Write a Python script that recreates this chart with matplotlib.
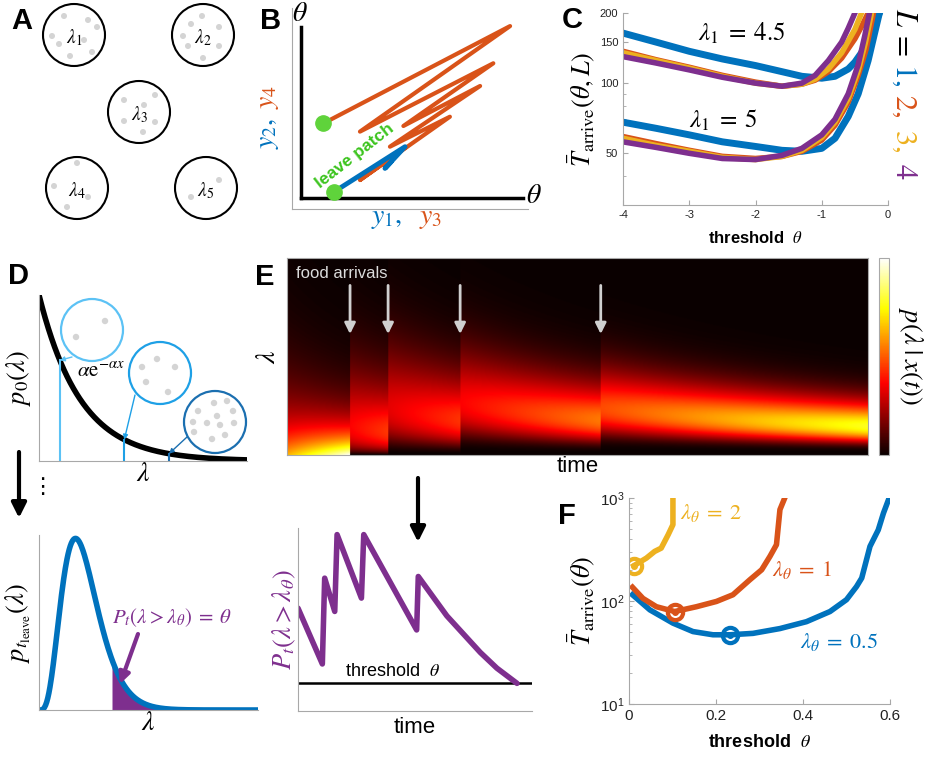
import numpy as np
import matplotlib
matplotlib.use('Agg')
import matplotlib.pyplot as plt
import matplotlib.ticker as tick
from matplotlib.patches import Circle
from math import lgamma

plt.rcParams['font.family'] = ['Liberation Sans', 'DejaVu Sans']
plt.rcParams['mathtext.fontset'] = 'stix'
plt.rcParams['axes.unicode_minus'] = False

BLUE, ORANGE, YELLOW, PURPLE = '#0072BD', '#D95319', '#EDB120', '#7E2F8E'
GREEN = '#5FD33B'
DOT = '#d4d4d4'
SPINE = '#a8a8a8'

# ---------------- data ----------------
# A: patches and food items (pixel layout of the cartoon)
patch_centers = [(74, 35), (203, 35), (139, 112), (77, 188), (206, 188)]
patch_labels = [r'$\lambda_1$', r'$\lambda_2$', r'$\lambda_3$', r'$\lambda_4$', r'$\lambda_5$']
patch_food = [
    [(64, 16), (88, 20), (97, 27), (52, 36), (84, 40), (59, 44), (92, 52), (70, 56)],
    [(202, 16), (191, 24), (219, 27), (183, 36), (188, 46), (219, 46), (203, 58)],
    [(124, 100), (155, 95), (144, 105), (124, 121), (155, 122), (143, 132)],
    [(77, 163), (54, 186), (88, 197), (67, 207)],
    [(219, 180), (191, 197)],
]

# B: belief trajectories
traj_orange_x = [0.133, 0.924, 0.288, 0.853, 0.472, 0.797, 0.415, 0.669, 0.288, 0.48]
traj_orange_y = [0.426, 0.910, 0.385, 0.725, 0.413, 0.612, 0.310, 0.459, 0.144, 0.305]
traj_blue_x = [0.179, 0.479, 0.394, 0.42]
traj_blue_y = [0.086, 0.310, 0.202, 0.235]
leave_x = [0.133, 0.179]
leave_y = [0.426, 0.086]

# C: mean arrival time vs threshold, lambda_1 = 4.5 (upper) and 5 (lower)
c_up_x = {
    1: [-4, -3.5, -3, -2.5, -2, -1.6, -1.3, -1, -0.8, -0.6, -0.5, -0.4, -0.3, -0.2, -0.13],
    2: [-4, -3.5, -3, -2.5, -2, -1.6, -1.3, -1.1, -0.9, -0.7, -0.5, -0.4, -0.3],
    3: [-4, -3.5, -3, -2.5, -2, -1.6, -1.3, -1.1, -0.9, -0.7, -0.5, -0.4],
    4: [-4, -3.5, -3, -2.5, -2, -1.6, -1.3, -1.1, -0.9, -0.7, -0.6, -0.5],
}
c_up_y = {
    1: [164, 150, 137, 127, 119, 112, 107, 105, 107, 115, 123, 135, 153, 180, 200],
    2: [137, 126, 117, 108, 101, 97, 99, 103, 112, 128, 155, 175, 200],
    3: [135, 125, 116, 107, 100, 97, 99, 104, 115, 135, 170, 200],
    4: [130, 122, 114, 106, 100, 97, 100, 108, 125, 150, 172, 200],
}
c_lo_x = {
    1: [-4, -3.5, -3, -2.5, -2, -1.6, -1.3, -1, -0.8, -0.6, -0.45, -0.3, -0.2, -0.13],
    2: [-4, -3.5, -3, -2.5, -2, -1.6, -1.3, -1, -0.8, -0.6, -0.45, -0.33, -0.22],
    3: [-4, -3.5, -3, -2.5, -2, -1.6, -1.3, -1, -0.8, -0.6, -0.45, -0.34, -0.25],
    4: [-4, -3.5, -3, -2.5, -2, -1.6, -1.3, -1, -0.8, -0.6, -0.45, -0.35, -0.28],
}
c_lo_y = {
    1: [68, 64, 60, 56, 53.5, 51.5, 51, 52.5, 58, 72, 90, 125, 165, 200],
    2: [59, 55, 51.5, 48.5, 47.5, 48.5, 51, 57, 66, 83, 108, 140, 200],
    3: [58, 54, 51, 48, 47, 48.5, 51.5, 58.5, 68, 86, 113, 150, 200],
    4: [56, 53, 50, 47.5, 47, 49, 52.5, 60, 70, 90, 120, 160, 200],
}
c_colors = {1: BLUE, 2: ORANGE, 3: YELLOW, 4: PURPLE}
c_xticks = [-4, -3, -2, -1, 0]
c_yticks = [50, 100, 150, 200]

# D: prior alpha*exp(-alpha*x) and the belief at leaving
alpha_prior = 5.0
sample_rates = [0.10, 0.41, 0.625]
sample_colors = ['#5cc2f5', '#1ea0e6', '#1b6fb0']
inset_centers = [(92, 330), (160, 373), (215, 422)]
inset_food = [
    [(76, 337), (105, 321)],
    [(142, 367), (157, 359), (175, 367), (146, 382), (168, 392)],
    [(198, 411), (214, 403), (227, 401), (217, 416), (233, 411), (193, 422),
     (207, 423), (220, 425), (234, 423), (194, 432), (212, 439), (225, 435)],
]
inset_from = [(72, 357), (135, 395), (187, 437)]
leave_shape, leave_rate = 4, 24.0
lambda_theta = 0.333

# E: posterior over lambda with food arrivals
T_END, LAM_MAX, ALPHA_POST = 20.0, 1.15, 3.8
arrivals = [2.17, 3.48, 5.96, 10.8]

# E lower: P_t(lambda > lambda_theta) over time
pt_time = [0, 1.04, 1.14, 1.57, 1.67, 2.71, 2.81, 5.07, 5.14, 6.36, 7.79, 8.5, 9.36]
pt_val = [0.562, 0.257, 0.726, 0.544, 0.964, 0.617, 0.964, 0.443, 0.735, 0.52, 0.32, 0.234, 0.151]
threshold = 0.151

# F: mean arrival time vs threshold
f_theta = {
    0.5: [0.008, 0.048, 0.101, 0.147, 0.193, 0.232, 0.285, 0.347, 0.408, 0.462, 0.500,
          0.523, 0.535, 0.554, 0.573, 0.585, 0.598],
    1: [0.008, 0.032, 0.063, 0.105, 0.155, 0.201, 0.239, 0.278, 0.305, 0.324, 0.339, 0.347, 0.358],
    2: [0.011, 0.040, 0.059, 0.074, 0.090, 0.101, 0.101],
}
f_T = {
    0.5: [115, 82, 61, 50.5, 47, 47, 48.5, 54, 63, 79, 103, 138, 167, 339, 490, 714, 1000],
    1: [136, 106, 88, 79, 88, 99, 115, 161, 201, 271, 352, 771, 1000],
    2: [220, 261, 303, 326, 440, 551, 1000],
}
f_opt = {0.5: (0.232, 47), 1: (0.105, 79), 2: (0.011, 220)}
f_colors = {0.5: BLUE, 1: ORANGE, 2: YELLOW}
f_xticks = [0, 0.2, 0.4, 0.6]
f_xticklabels = ['0', '0.2', '0.4', '0.6']

# ---------------- figure ----------------
W, H = 926, 760
fig = plt.figure(figsize=(W / 100, H / 100), dpi=100)


def box(l, t, r, b):
    return [l / W, 1 - b / H, (r - l) / W, (b - t) / H]


def clean(ax, ticks=True):
    for s in ['top', 'right']:
        ax.spines[s].set_visible(False)
    for s in ['left', 'bottom']:
        ax.spines[s].set_color(SPINE)
    if ticks:
        ax.tick_params(which='both', direction='in', color=SPINE, labelcolor='#222222')
    else:
        ax.set_xticks([])
        ax.set_yticks([])


# B
axB = fig.add_axes(box(292, 8, 528, 209))
axB.set_xlim(0, 1)
axB.set_ylim(0, 1)
clean(axB, ticks=False)
axB.axvline(0.038, 0.055, 0.905, color='k', lw=2.5)
axB.axhline(0.055, 0.038, 0.98, color='k', lw=2.5)
axB.plot(traj_orange_x, traj_orange_y, color=ORANGE, lw=3, solid_capstyle='round')
axB.plot(traj_blue_x, traj_blue_y, color=BLUE, lw=3.5, solid_capstyle='round')
axB.plot(leave_x, leave_y, 'o', color=GREEN, ms=11, ls='none')
axB.text(0.265, 0.265, 'leave patch', color='#3cc41e', fontsize=12.5, fontweight='bold',
         rotation=38, ha='center', va='center')

# C
axC = fig.add_axes(box(623, 13, 888, 205))
for L in [1, 2, 3, 4]:
    lw = 5 if L == 1 else 4
    axC.plot(c_up_x[L], c_up_y[L], color=c_colors[L], lw=lw)
for L in [1, 2, 3, 4]:
    lw = 5 if L == 1 else 4
    axC.plot(c_lo_x[L], c_lo_y[L], color=c_colors[L], lw=lw)
axC.set_yscale('log')
axC.set_ylim(30, 200)
axC.set_xlim(-4, 0)
axC.set_xticks(c_xticks)
axC.set_yticks(c_yticks)
axC.yaxis.set_major_formatter(tick.ScalarFormatter())
axC.yaxis.set_minor_formatter(tick.NullFormatter())
clean(axC)
axC.tick_params(labelsize=8)
axC.set_xlabel(r'threshold  $\theta$', fontsize=12, fontweight='bold', labelpad=7)
axC.set_ylabel(r'$\bar{T}_{\rm arrive}(\theta, L)$', fontsize=19, labelpad=2)
axC.text(-2.2, 164, r'$\lambda_1\;=\;4.5$', fontsize=18, ha='center', va='center')
axC.text(-2.48, 69, r'$\lambda_1\;=\;5$', fontsize=18, ha='center', va='center')

# D upper
axD = fig.add_axes(box(39, 295, 247, 461))
lam = np.linspace(0, 1, 400)
axD.plot(lam, np.exp(-alpha_prior * lam), color='k', lw=4)
for r, c in zip(sample_rates, sample_colors):
    axD.plot([r, r], [0, np.exp(-alpha_prior * r)], color=c, lw=1.5)
axD.set_xlim(0, 1)
axD.set_ylim(0, 1)
clean(axD, ticks=False)
axD.set_xlabel(r'$\lambda$', fontsize=20, labelpad=0)
axD.set_ylabel(r'$p_0(\lambda)$', fontsize=19, labelpad=4)

# D lower
axL = fig.add_axes(box(39, 535, 258, 710))
g = lam ** leave_shape * np.exp(-leave_rate * lam)
g = g / g.max()
axL.fill_between(lam, 0, g, where=lam >= lambda_theta, color=PURPLE, lw=0)
axL.plot(lam, g, color=BLUE, lw=4)
axL.set_xlim(0, 1)
axL.set_ylim(0, 1.02)
clean(axL, ticks=False)
axL.set_xlabel(r'$\lambda$', fontsize=20, labelpad=0)
axL.set_ylabel(r'$p_{t_{\rm leave}}(\lambda)$', fontsize=19, labelpad=4)

# E heatmap
axE = fig.add_axes(box(287, 258, 868, 455))
t_grid = np.linspace(0, T_END, 700)
lam_grid = np.linspace(0, LAM_MAX, 300)
n = np.searchsorted(arrivals, t_grid, side='right')
rate = ALPHA_POST + t_grid
lg = np.array([lgamma(k + 1) for k in n])
logl = np.log(np.clip(lam_grid, 1e-12, None))[:, None]
Z = np.exp((n + 1) * np.log(rate) + n * logl - rate * lam_grid[:, None] - lg)
im = axE.imshow(Z, origin='lower', extent=[0, T_END, 0, LAM_MAX], aspect='auto',
                cmap='hot', vmin=0, vmax=6.0, interpolation='bilinear')
axE.set_xticks([])
axE.set_yticks([])
for s in axE.spines.values():
    s.set_color(SPINE)
for a in arrivals:
    axE.annotate('', xy=(a, LAM_MAX * 0.6), xytext=(a, LAM_MAX * 0.875),
                 arrowprops=dict(arrowstyle='-|>', color='#d0d0d0', lw=2, mutation_scale=16))
axE.text(0.015, 0.92, 'food arrivals', transform=axE.transAxes, color='#dcdcdc',
         fontsize=12, va='center')
axE.set_xlabel('time', fontsize=16, labelpad=1)
axE.set_ylabel(r'$\lambda$', fontsize=20, labelpad=4)
cax = fig.add_axes(box(879, 258, 889, 455))
cb = fig.colorbar(im, cax=cax, ticks=[])
cb.outline.set_edgecolor(SPINE)

# E lower
axP = fig.add_axes(box(298, 528, 532, 711))
axP.axhline(threshold, color='k', lw=1.8)
axP.plot(pt_time, pt_val, color=PURPLE, lw=4, solid_joinstyle='round', solid_capstyle='round')
axP.set_xlim(0, 10)
axP.set_ylim(0, 1)
clean(axP, ticks=False)
axP.text(2.0, threshold + 0.02, r'threshold  $\theta$', fontsize=13, va='bottom')
axP.set_xlabel('time', fontsize=16, labelpad=4)
axP.set_ylabel(r'$P_t(\lambda > \lambda_\theta)$', fontsize=19, color=PURPLE, labelpad=0)

# F
axF = fig.add_axes(box(629, 498, 890, 704))
for k in [0.5, 1, 2]:
    axF.plot(f_theta[k], f_T[k], color=f_colors[k], lw=4)
    axF.plot(*f_opt[k], 'o', color=f_colors[k], ms=11, mfc='none', mew=3)
    axF.plot(*f_opt[k], 'o', color=f_colors[k], ms=4)
axF.set_yscale('log')
axF.set_ylim(10, 1000)
axF.set_xlim(0, 0.6)
axF.set_xticks(f_xticks, f_xticklabels)
clean(axF)
axF.tick_params(labelsize=11)
axF.set_xlabel(r'threshold  $\theta$', fontsize=13, fontweight='bold', labelpad=8)
axF.set_ylabel(r'$\bar{T}_{\rm arrive}(\theta)$', fontsize=19, labelpad=2)
axF.text(0.117, 714, r'$\lambda_\theta\;=\;2$', color=YELLOW, fontsize=16, va='center')
axF.text(0.329, 200, r'$\lambda_\theta\;=\;1$', color=ORANGE, fontsize=16, va='center')
axF.text(0.393, 40, r'$\lambda_\theta\;=\;0.5$', color=BLUE, fontsize=16, va='center')

# overlay for cartoons, arrows and panel letters
ov = fig.add_axes([0, 0, 1, 1])
ov.set_xlim(0, W)
ov.set_ylim(H, 0)
ov.axis('off')

for (cx, cy), lab, food in zip(patch_centers, patch_labels, patch_food):
    ov.add_patch(Circle((cx, cy), 31, fc='white', ec='k', lw=1.5))
    for fx, fy in food:
        ov.add_patch(Circle((fx, fy), 3, fc=DOT, ec='none'))
    ov.text(cx, cy + 3, lab, fontsize=14, ha='center', va='center')

for (cx, cy), food, c, src, r in zip(inset_centers, inset_food, sample_colors, inset_from, sample_rates):
    ov.add_patch(Circle((cx, cy), 31, fc='white', ec=c, lw=1.6))
    for fx, fy in food:
        ov.add_patch(Circle((fx, fy), 3.2, fc=DOT, ec='none'))
    ov.annotate('', xy=(r, np.exp(-alpha_prior * r)), xycoords=axD.transData,
                xytext=src, textcoords=ov.transData,
                arrowprops=dict(arrowstyle='-|>', color=c, lw=1, mutation_scale=7, shrinkA=0, shrinkB=0))
ov.text(77, 371, r'$\alpha \mathrm{e}^{-\alpha x}$', fontsize=15, va='center')

ov.annotate('', xy=(19, 518), xytext=(19, 452),
            arrowprops=dict(arrowstyle='-|>', color='k', lw=3, mutation_scale=22, shrinkA=0, shrinkB=0))
ov.annotate('', xy=(418, 542), xytext=(418, 478),
            arrowprops=dict(arrowstyle='-|>', color='k', lw=3, mutation_scale=22, shrinkA=0, shrinkB=0))
ov.text(42, 487, '\u22ee', fontsize=16, family='DejaVu Sans', ha='center', va='center')
ov.annotate('', xy=(120, 684), xytext=(138, 634),
            arrowprops=dict(arrowstyle='-|>', color=PURPLE, lw=3, mutation_scale=16, shrinkA=0, shrinkB=0))
ov.text(172, 618, r'$P_t(\lambda > \lambda_\theta)\;=\;\theta$', color=PURPLE, fontsize=15,
        ha='center', va='center')

# B axis labels
ov.text(300, 14, r'$\theta$', fontsize=20, ha='center', va='center')
ov.text(534, 196, r'$\theta$', fontsize=20, ha='center', va='center')
ov.text(268, 133, r'$y_2,$', fontsize=20, color=BLUE, rotation=90, ha='center', va='center')
ov.text(268, 97, r'$y_4$', fontsize=20, color=ORANGE, rotation=90, ha='center', va='center')
ov.text(387, 218, r'$y_1,$', fontsize=20, color=BLUE, ha='center', va='center')
ov.text(431, 218, r'$y_3$', fontsize=20, color=ORANGE, ha='center', va='center')

# C legend written down the right side
for s, c, y in [(r'$L$', 'k', 18), (r'$=$', 'k', 43), (r'$1,$', BLUE, 75),
                (r'$2,$', ORANGE, 106), (r'$3,$', YELLOW, 141), (r'$4$', PURPLE, 171)]:
    ov.text(904, y, s, fontsize=22, color=c, rotation=270, ha='center', va='center')

# E colorbar label
ov.text(910, 356, r'$p(\lambda\;|\;x(t))$', fontsize=19, rotation=270, ha='center', va='center')

for lab, x, y in [('A', 22, 21), ('B', 271, 21), ('C', 572, 20), ('D', 19, 276),
                  ('E', 265, 277), ('F', 567, 516)]:
    ov.text(x, y, lab, fontsize=21, fontweight='bold', ha='center', va='center')

fig.savefig('out.png', dpi=100)
